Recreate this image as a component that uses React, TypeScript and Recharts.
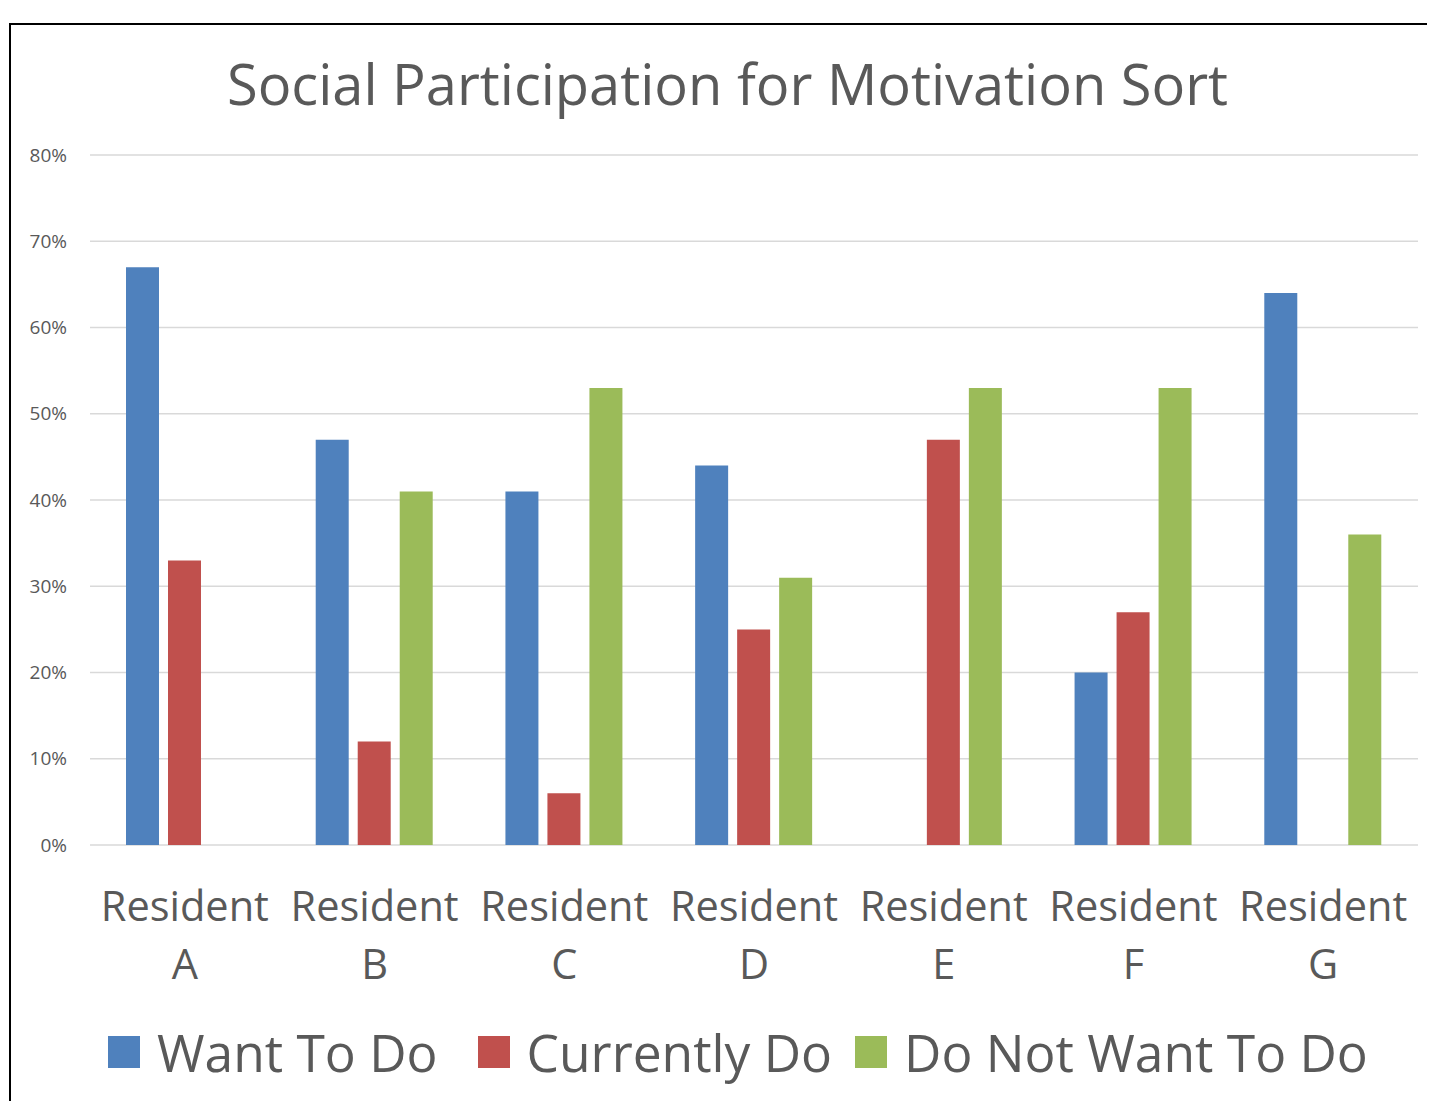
import React from 'react';
import { BarChart, Bar, XAxis, YAxis, CartesianGrid, Legend } from 'recharts';

const residents = ['A', 'B', 'C', 'D', 'E', 'F', 'G'];
const wantToDo = [67, 47, 41, 44, 0, 20, 64];
const currentlyDo = [33, 12, 6, 25, 47, 27, 0];
const doNotWantToDo = [0, 41, 53, 31, 53, 53, 36];
const yTicks = [0, 10, 20, 30, 40, 50, 60, 70, 80];

const seriesNames = ['Want To Do', 'Currently Do', 'Do Not Want To Do'];
const seriesKeys = ['want', 'current', 'notWant'];
const seriesColors = ['#4F81BD', '#C0504D', '#9BBB59'];
const legendGaps = [40, 23, 0];

const data = residents.map((r, i) => ({
  name: r,
  want: wantToDo[i],
  current: currentlyDo[i],
  notWant: doNotWantToDo[i],
}));

const FONT = '"Open Sans", sans-serif';
const TEXT = '#595959';

const XTick = (props: any) => {
  const { x, y, payload } = props;
  return (
    <g>
      <text x={x} y={y + 76} textAnchor="middle" fill={TEXT} fontSize={41.5} fontFamily={FONT}>
        Resident
      </text>
      <text x={x} y={y + 134} textAnchor="middle" fill={TEXT} fontSize={41.5} fontFamily={FONT}>
        {payload.value}
      </text>
    </g>
  );
};

const LegendContent = () => (
  <div
    style={{
      display: 'flex',
      alignItems: 'center',
      height: 94,
      paddingLeft: 100,
      fontFamily: FONT,
      fontSize: 51.5,
      color: TEXT,
      whiteSpace: 'nowrap',
    }}
  >
    {seriesNames.map((n, i) => (
      <div key={n} style={{ display: 'flex', alignItems: 'center', marginRight: legendGaps[i] }}>
        <div style={{ width: 32, height: 32, background: seriesColors[i], marginRight: 17 }} />
        <span style={{ lineHeight: '94px' }}>{n}</span>
      </div>
    ))}
  </div>
);

export default function App() {
  return (
    <div style={{ position: 'relative', width: 1427, height: 1093, background: '#fff' }}>
      <div
        style={{
          position: 'absolute',
          left: 1,
          top: 15,
          width: 1426,
          height: 1078,
          borderLeft: '2px solid #000',
          borderTop: '2px solid #000',
          boxSizing: 'border-box',
        }}
      />
      <div
        style={{
          position: 'absolute',
          left: 0,
          width: 1427,
          top: 35,
          textAlign: 'center',
          fontFamily: FONT,
          fontSize: 56,
          color: TEXT,
          lineHeight: '80px',
          paddingLeft: 12,
          boxSizing: 'border-box',
        }}
      >
        Social Participation for Motivation Sort
      </div>
      <BarChart
        width={1427}
        height={1093}
        data={data}
        margin={{ top: 147, right: 17, bottom: 2, left: 0 }}
        barSize={33}
        barGap={9}
        style={{ position: 'absolute', left: 0, top: 0 }}
      >
        <CartesianGrid vertical={false} stroke="#D9D9D9" strokeWidth={1.5} />
        <XAxis
          dataKey="name"
          axisLine={false}
          tickLine={false}
          tickSize={0}
          tickMargin={0}
          height={160}
          tick={<XTick />}
          interval={0}
        />
        <YAxis
          domain={[0, 80]}
          ticks={yTicks}
          tickFormatter={(v: number) => `${v}%`}
          axisLine={false}
          tickLine={false}
          tickSize={0}
          tickMargin={23}
          width={82}
          tick={{ fill: TEXT, fontSize: 19, fontFamily: FONT }}
        />
        <Legend verticalAlign="bottom" content={<LegendContent />} height={94} wrapperStyle={{ left: 0, width: 1427 }} />
        {seriesKeys.map((k, i) => (
          <Bar key={k} dataKey={k} name={seriesNames[i]} fill={seriesColors[i]} isAnimationActive={false} />
        ))}
      </BarChart>
    </div>
  );
}
